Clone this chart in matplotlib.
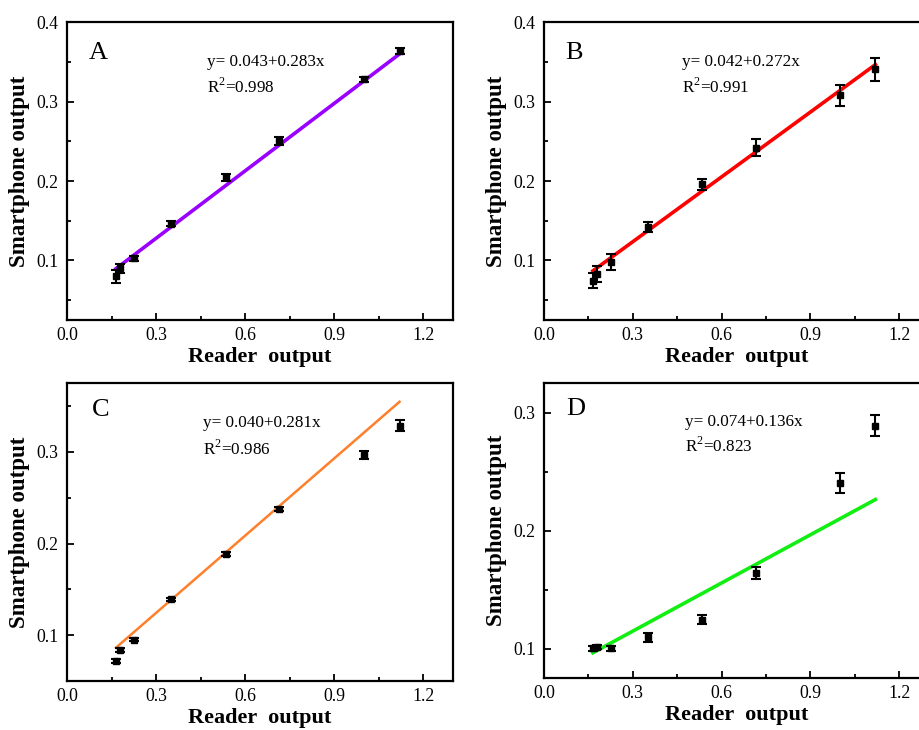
import matplotlib
matplotlib.use("Agg")
import matplotlib.pyplot as plt
from matplotlib.ticker import MultipleLocator, FormatStrFormatter

plt.rcParams['font.family'] = ['Liberation Serif', 'DejaVu Serif']
plt.rcParams['mathtext.fontset'] = 'custom'
plt.rcParams['mathtext.rm'] = 'Liberation Serif'

# reader output (x) shared by all four panels
reader = [0.165, 0.18, 0.225, 0.35, 0.535, 0.715, 1.0, 1.12]

# smartphone output (y) and error bars
phone_a = [0.080, 0.090, 0.1025, 0.1465, 0.2045, 0.251, 0.328, 0.364]
err_a = [0.008, 0.006, 0.003, 0.003, 0.004, 0.005, 0.003, 0.004]
phone_b = [0.0747, 0.0832, 0.0978, 0.1422, 0.1958, 0.2422, 0.308, 0.3405]
err_b = [0.0095, 0.010, 0.010, 0.006, 0.007, 0.011, 0.013, 0.014]
phone_c = [0.0716, 0.0836, 0.0953, 0.139, 0.1885, 0.2374, 0.2967, 0.3287]
err_c = [0.002, 0.002, 0.002, 0.002, 0.002, 0.002, 0.004, 0.006]
phone_d = [0.1003, 0.1014, 0.1003, 0.1095, 0.1245, 0.1639, 0.2403, 0.289]
err_d = [0.002, 0.002, 0.002, 0.004, 0.004, 0.005, 0.0087, 0.009]

# fitted lines (end points) and the printed fit results
fit_x = [0.165, 1.12]
fit_a = [0.0897, 0.360]
fit_b = [0.0869, 0.3466]
fit_c = [0.0864, 0.3547]
fit_d = [0.0964, 0.2263]
eq_labels = ['y= 0.043+0.283x', 'y= 0.042+0.272x', 'y= 0.040+0.281x', 'y= 0.074+0.136x']
r2_labels = ['R$^2$=0.998', 'R$^2$=0.991', 'R$^2$=0.986', 'R$^2$=0.823']
letters = ['A', 'B', 'C', 'D']

fig = plt.figure(figsize=(9.19, 7.30), dpi=100)

panels = [
    # position, y data, err, fit, colour, lw, ylim, letter pos, eq pos, xlabel y
    ([0.0729, 0.5616, 0.420, 0.408], phone_a, err_a, fit_a, '#9900FF', 2.6, (0.025, 0.4), (0.057, 0.896), (0.363, 0.866, 0.782), -0.09),
    ([0.5920, 0.5616, 0.4185, 0.408], phone_b, err_b, fit_b, '#FF0000', 2.6, (0.025, 0.4), (0.055, 0.896), (0.359, 0.866, 0.782), -0.09),
    ([0.0729, 0.0671, 0.420, 0.408], phone_c, err_c, fit_c, '#FF7F2A', 1.8, (0.05, 0.375), (0.065, 0.909), (0.352, 0.866, 0.778), -0.09),
    ([0.5920, 0.0712, 0.4185, 0.404], phone_d, err_d, fit_d, '#11EE11', 2.6, (0.075, 0.325), (0.057, 0.912), (0.367, 0.868, 0.786), -0.092),
]

for i, (pos, ydat, err, fit, col, lw, ylim, lpos, epos, xly) in enumerate(panels):
    ax = fig.add_axes(pos)
    ax.errorbar(reader, ydat, yerr=err, fmt='s', color='black', ms=4.5,
                elinewidth=1.5, capsize=3.5, capthick=1.5, zorder=3)
    ax.plot(fit_x, fit, color=col, lw=lw, zorder=2)

    ax.set_xlim(0, 1.3)
    ax.set_ylim(*ylim)
    ax.xaxis.set_major_locator(MultipleLocator(0.3))
    ax.xaxis.set_minor_locator(MultipleLocator(0.15))
    ax.yaxis.set_major_locator(MultipleLocator(0.1))
    ax.yaxis.set_minor_locator(MultipleLocator(0.05))
    ax.xaxis.set_major_formatter(FormatStrFormatter('%.1f'))
    ax.yaxis.set_major_formatter(FormatStrFormatter('%.1f'))
    ax.tick_params(which='both', direction='in', top=False, right=False,
                   labelsize=12.8, width=1.3)
    ax.tick_params(axis='y', which='major', length=5, pad=6)
    ax.tick_params(axis='x', which='major', length=5, pad=5)
    ax.tick_params(which='minor', length=3)
    for sp in ax.spines.values():
        sp.set_linewidth(1.6)

    ax.set_xlabel('Reader  output', fontsize=16, fontweight='bold')
    ax.set_ylabel('Smartphone output', fontsize=16.5, fontweight='bold')
    ax.xaxis.set_label_coords(0.5, xly)
    ax.yaxis.set_label_coords(-0.096, 0.5)

    ax.text(lpos[0], lpos[1], letters[i], transform=ax.transAxes,
            fontsize=19, ha='left', va='center')
    ax.text(epos[0], epos[1], eq_labels[i], transform=ax.transAxes,
            fontsize=12.3, ha='left', va='center')
    ax.text(epos[0], epos[2], r2_labels[i], transform=ax.transAxes,
            fontsize=12.3, ha='left', va='center')

fig.savefig('out.png', dpi=100)
